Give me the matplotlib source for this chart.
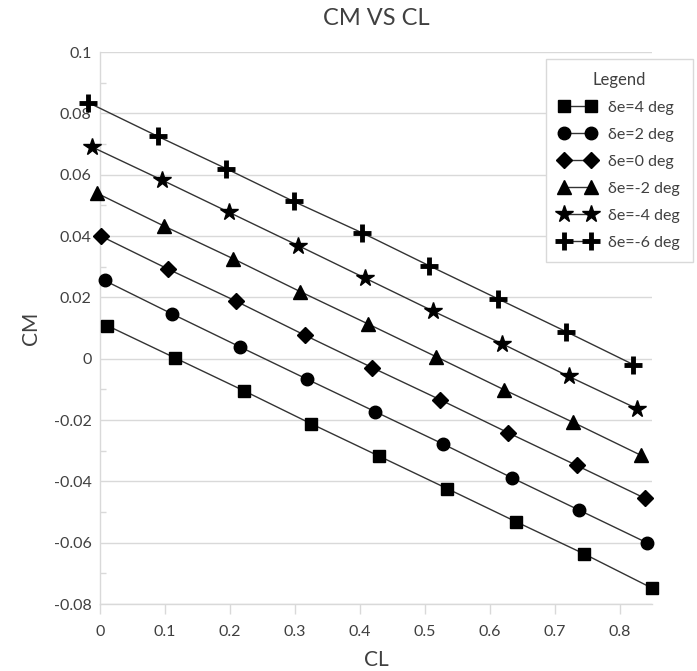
import matplotlib.pyplot as plt
import numpy as np
from matplotlib.ticker import MultipleLocator

plt.rcParams['font.family'] = ['Lato', 'DejaVu Sans']

# data
cl_4 = [0.011, 0.116, 0.221, 0.325, 0.43, 0.535, 0.64, 0.745, 0.85]
cm_4 = [0.0108, 0.0002, -0.0104, -0.0212, -0.0318, -0.0424, -0.0531, -0.0636, -0.0748]
cl_2 = [0.007, 0.111, 0.216, 0.319, 0.424, 0.528, 0.634, 0.738, 0.842]
cm_2 = [0.0255, 0.0146, 0.0038, -0.0067, -0.0173, -0.0278, -0.0388, -0.0494, -0.0600]
cl_0 = [0.001, 0.105, 0.210, 0.315, 0.419, 0.524, 0.628, 0.734, 0.839]
cm_0 = [0.0400, 0.0292, 0.0187, 0.0077, -0.0029, -0.0134, -0.0241, -0.0348, -0.0455]
cl_m2 = [-0.005, 0.099, 0.205, 0.308, 0.413, 0.518, 0.622, 0.728, 0.833]
cm_m2 = [0.0540, 0.0432, 0.0326, 0.0219, 0.0113, 0.0006, -0.0101, -0.0207, -0.0315]
cl_m4 = [-0.012, 0.095, 0.199, 0.305, 0.408, 0.513, 0.619, 0.722, 0.827]
cm_m4 = [0.0690, 0.0583, 0.0477, 0.0369, 0.0263, 0.0155, 0.0049, -0.0058, -0.0163]
cl_m6 = [-0.018, 0.089, 0.194, 0.298, 0.404, 0.507, 0.613, 0.718, 0.821]
cm_m6 = [0.0835, 0.0725, 0.0620, 0.0513, 0.0410, 0.0303, 0.0195, 0.0088, -0.0019]

labels = ["δe=4 deg", "δe=2 deg", "δe=0 deg", "δe=-2 deg", "δe=-4 deg", "δe=-6 deg"]

txt = "#404040"
grid = "#d9d9d9"

fig = plt.figure(figsize=(6.97, 6.71), dpi=100)
ax = fig.add_axes([0.1435, 0.0998, 0.7919, 0.8227])

series = [
    (cl_4, cm_4, dict(marker="s", ms=9)),
    (cl_2, cm_2, dict(marker="o", ms=9)),
    (cl_0, cm_0, dict(marker="D", ms=8.5)),
    (cl_m2, cm_m2, dict(marker="^", ms=10.5)),
    (cl_m4, cm_m4, dict(marker="*", ms=13)),
    (cl_m6, cm_m6, dict(marker="+", ms=13, mew=3.5)),
]
for (x, y, m), lab in zip(series, labels):
    ax.plot(x, y, color="#333333", lw=1.0, mfc="black", mec="black",
            label=lab, clip_on=False, zorder=3, **m)

ax.set_xlim(0, 0.85)
ax.set_ylim(-0.08, 0.1)
ax.yaxis.set_minor_locator(MultipleLocator(0.01))
ax.set_xticks(np.arange(0, 0.81, 0.1))
ax.set_xticklabels(["0", "0.1", "0.2", "0.3", "0.4", "0.5", "0.6", "0.7", "0.8"])
ax.set_yticks(np.arange(-0.08, 0.101, 0.02))
ax.set_yticklabels(["-0.08", "-0.06", "-0.04", "-0.02", "0", "0.02", "0.04", "0.06", "0.08", "0.1"])

ax.grid(axis="y", which="major", color=grid, lw=1.0)
ax.set_axisbelow(True)
for s in ["top", "right"]:
    ax.spines[s].set_visible(False)
for s in ["left", "bottom"]:
    ax.spines[s].set_color(grid)
    ax.spines[s].set_linewidth(1.0)

ax.tick_params(axis="x", which="major", direction="out", length=7, width=1.0,
               color=grid, pad=8, labelsize=11.5, labelcolor=txt)
ax.tick_params(axis="y", which="major", length=0, pad=6, labelsize=11.5, labelcolor=txt)
ax.tick_params(axis="y", which="minor", direction="in", length=4, width=1.0, color=grid)

ax.set_xlabel("CL", fontsize=15, color=txt)
ax.set_ylabel("CM", fontsize=15, color=txt)
ax.xaxis.set_label_coords(0.5, -0.083)
ax.yaxis.set_label_coords(-0.107, 0.5)
ax.set_title("CM VS CL", fontsize=17, color=txt, y=1.045, va="center")

leg = ax.legend(title="Legend", loc="upper right", bbox_to_anchor=(693 / 697, 1 - 59 / 671),
                bbox_transform=fig.transFigure, borderaxespad=0, numpoints=2,
                fontsize=11.5, title_fontsize=12, frameon=True, fancybox=False,
                edgecolor=grid, framealpha=1, handlelength=2.3, handletextpad=0.8,
                labelspacing=0.8, borderpad=0.8)
leg.get_frame().set_linewidth(1.0)
leg.get_title().set_color(txt)
for t in leg.get_texts():
    t.set_color(txt)

fig.savefig("out.png", dpi=100)
